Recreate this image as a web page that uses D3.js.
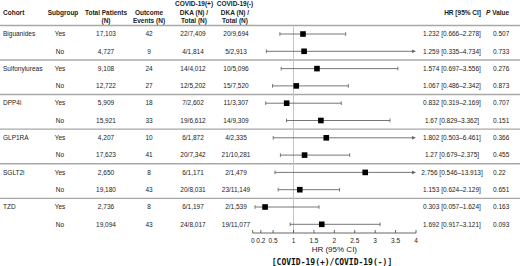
<!DOCTYPE html>
<html><head><meta charset="utf-8">
<script src="https://cdn.jsdelivr.net/npm/d3@7"></script>
<style>
html,body{margin:0;padding:0;background:#fff;}
svg{display:block;font-family:"Liberation Sans",Arial,sans-serif;}
</style></head>
<body><svg id="c" width="520" height="266"></svg>
<script>
const cohorts = ["Biguanides","Sulfonylureas","DPP4i","GLP1RA","SGLT2i","TZD"];
const subgroups = ["Yes","No"];
const totalPatients = ["17,103","4,727","9,108","12,722","5,909","15,921","4,207","17,623","2,650","19,180","2,736","19,094"];
const outcomeEvents = ["42","9","24","27","18","33","10","41","8","43","8","43"];
const covidPos = ["22/7,409","4/1,814","14/4,012","12/5,202","7/2,602","19/6,612","6/1,872","20/7,342","6/1,171","20/8,031","6/1,197","24/8,017"];
const covidNeg = ["20/9,694","5/2,913","10/5,096","15/7,520","11/3,307","14/9,309","4/2,335","21/10,281","2/1,479","23/11,149","2/1,539","19/11,077"];
const hr = [1.232,1.259,1.574,1.067,0.832,1.67,1.802,1.27,2.756,1.153,0.303,1.692];
const ciLow = [0.666,0.335,0.697,0.486,0.319,0.829,0.503,0.679,0.546,0.624,0.057,0.917];
const ciHigh = [2.278,4.734,3.556,2.342,2.169,3.362,6.461,2.375,13.913,2.129,1.624,3.121];
const hrText = ["1.232 [0.666\u20132.278]","1.259 [0.335\u20134.734]","1.574 [0.697\u20133.556]","1.067 [0.486\u20132.342]","0.832 [0.319\u20132.169]","1.67 [0.829\u20133.362]","1.802 [0.503\u20136.461]","1.27 [0.679\u20132.375]","2.756 [0.546\u201313.913]","1.153 [0.624\u20132.129]","0.303 [0.057\u20131.624]","1.692 [0.917\u20133.121]"];
const pValues = ["0.507","0.733","0.276","0.873","0.707","0.151","0.366","0.455","0.22","0.651","0.163","0.093"];
const xTicks = [0,0.2,0.5,1,1.5,2,2.5,3,3.5,4];

const svg = d3.select("#c");
const W = 520;
const rowIdx = d3.range(hr.length);
const y = d3.scaleLinear().domain([0, 11]).range([34, 224.3]);
const x = d3.scaleLinear().domain([0, 4]).range([252.7, 416]);
const txtCol = "#222";
const fs = 6.5;

// header
const hdr = svg.append("g").attr("font-weight","bold").attr("font-size",6.5).attr("fill",txtCol);
function hText(xp, lines, anchor){
  const n = lines.length;
  const ys = n===3 ? [4,12.5,21] : (n===2 ? [12.5,21] : [12.5]);
  lines.forEach((l,i)=>hdr.append("text").attr("x",xp).attr("y",ys[i]).attr("dy","0.35em").attr("text-anchor",anchor).text(l));
}
hText(3,["Cohort"],"start");
hText(63,["Subgroup"],"middle");
hText(106,["Total Patients","(N)"],"middle");
hText(149,["Outcome","Events (N)"],"middle");
hText(194,["COVID-19(+)","DKA (N) /","Total (N)"],"middle");
hText(235,["COVID-19(-)","DKA (N) /","Total (N)"],"middle");
hdr.append("text").attr("x",481).attr("y",12.5).attr("dy","0.35em").attr("text-anchor","end").text("HR [95% CI]");
const pv = hdr.append("text").attr("x",486).attr("y",12.5).attr("dy","0.35em").attr("text-anchor","start");
pv.append("tspan").attr("font-style","italic").text("P");
pv.append("tspan").text(" Value");

// separators
const seps = [25.5].concat(d3.range(1,6).map(g => (y(2*g-1)+y(2*g))/2));
svg.selectAll("line.sep").data(seps).join("line").attr("class","sep")
  .attr("x1",0).attr("x2",W).attr("y1",d=>d).attr("y2",d=>d)
  .attr("stroke","#a8a8a8").attr("stroke-width",1.4);

// reference line
svg.append("line").attr("x1",x(1)).attr("x2",x(1)).attr("y1",26.5).attr("y2",233)
  .attr("stroke","#c4c4c4").attr("stroke-width",1);

// table body
const body = svg.append("g").attr("font-size",fs).attr("fill",txtCol);
cohorts.forEach((c,g)=>body.append("text").attr("x",3).attr("y",y(2*g)).attr("dy","0.35em").text(c));
const cols = [
  {x:60, v:rowIdx.map(i=>subgroups[i%2])},
  {x:106, v:totalPatients},
  {x:149, v:outcomeEvents},
  {x:193, v:covidPos},
  {x:236, v:covidNeg}
];
cols.forEach(col=>{
  body.selectAll(null).data(col.v).join("text")
    .attr("x",col.x).attr("y",(d,i)=>y(i)).attr("dy","0.35em").attr("text-anchor","middle").text(d=>d);
});
body.selectAll(null).data(hrText).join("text")
  .attr("x",452).attr("y",(d,i)=>y(i)).attr("dy","0.35em").attr("text-anchor","middle").text(d=>d);
body.selectAll(null).data(pValues).join("text")
  .attr("x",493).attr("y",(d,i)=>y(i)).attr("dy","0.35em").attr("text-anchor","start").text(d=>d);

// forest marks
const ciCol = "#666";
const fg = svg.append("g");
rowIdx.forEach(i=>{
  const yy = y(i);
  const lo = x(Math.max(ciLow[i], x.domain()[0]));
  const over = ciHigh[i] > x.domain()[1];
  const hi = x(Math.min(ciHigh[i], x.domain()[1]));
  fg.append("line").attr("x1",lo).attr("x2",over?hi-3:hi).attr("y1",yy).attr("y2",yy).attr("stroke",ciCol).attr("stroke-width",0.9);
  fg.append("line").attr("x1",lo).attr("x2",lo).attr("y1",yy-1.8).attr("y2",yy+1.8).attr("stroke",ciCol).attr("stroke-width",0.9);
  if(over){
    fg.append("path").attr("d",`M${hi},${yy} L${hi-4},${yy-1.8} L${hi-4},${yy+1.8} Z`).attr("fill",ciCol);
  } else {
    fg.append("line").attr("x1",hi).attr("x2",hi).attr("y1",yy-1.8).attr("y2",yy+1.8).attr("stroke",ciCol).attr("stroke-width",0.9);
  }
  fg.append("rect").attr("x",x(hr[i])-2.8).attr("y",yy-2.8).attr("width",5.6).attr("height",5.6).attr("fill","#000");
});

// axis
const ax = svg.append("g").attr("transform","translate(0,233)");
ax.append("line").attr("x1",x(0)).attr("x2",x(4)).attr("y1",0).attr("y2",0).attr("stroke","#555").attr("stroke-width",0.9);
ax.selectAll("line.t").data(xTicks).join("line").attr("class","t")
  .attr("x1",d=>x(d)).attr("x2",d=>x(d)).attr("y1",0).attr("y2",-3).attr("stroke","#555").attr("stroke-width",0.9);
ax.selectAll("text").data(xTicks).join("text")
  .attr("x",d=>x(d)).attr("y",8).attr("dy","0.35em").attr("text-anchor","middle")
  .attr("font-size",6.5).attr("fill",txtCol).text(d=>d3.format("")(d));
svg.append("text").attr("x",x(2)).attr("y",249).attr("dy","0.35em").attr("text-anchor","middle")
  .attr("font-size",8).attr("fill",txtCol).text("HR (95% CI)");
svg.append("text").attr("x",332).attr("y",262).attr("dy","0.35em").attr("text-anchor","middle")
  .attr("font-size",8).attr("font-weight","bold").attr("font-family","'DejaVu Sans Mono',monospace").attr("fill","#111")
  .text("[COVID-19(+)/COVID-19(-)]");
</script></body></html>
